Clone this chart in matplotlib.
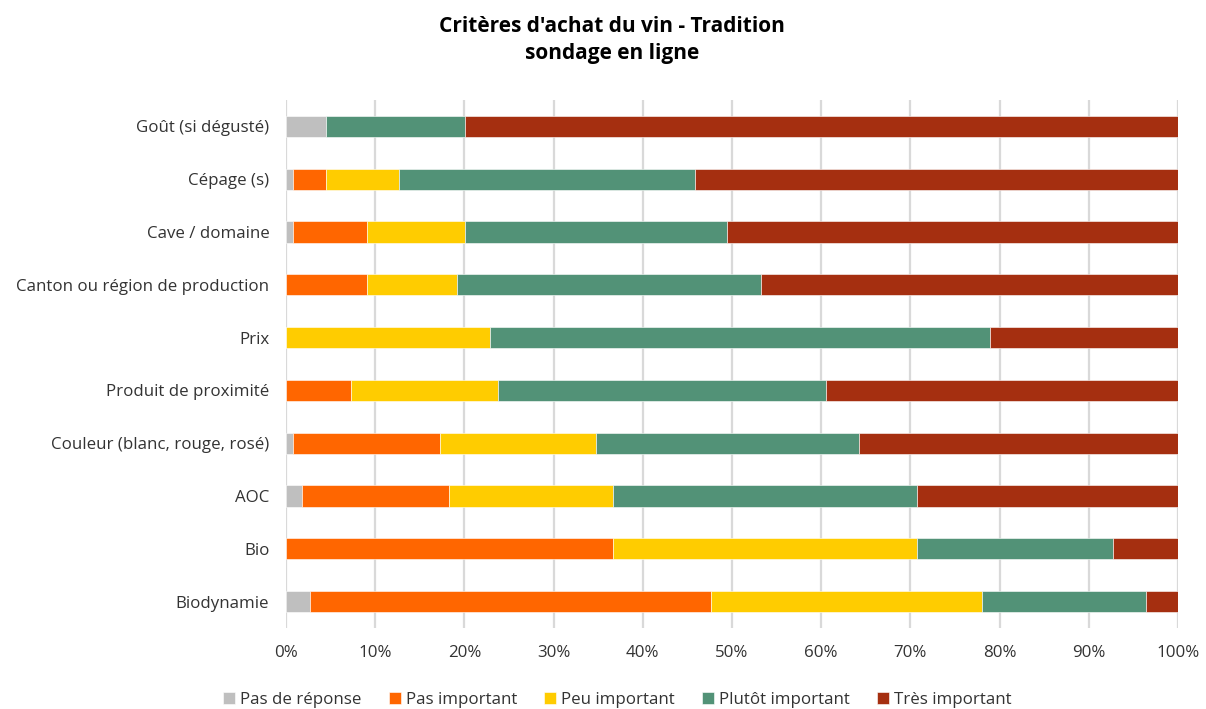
import numpy as np
import matplotlib
matplotlib.use("Agg")
import matplotlib.pyplot as plt
from matplotlib.ticker import PercentFormatter

plt.rcParams['font.family'] = ['Open Sans', 'DejaVu Sans']

criteres = ["Goût (si dégusté)", "Cépage (s)", "Cave / domaine",
            "Canton ou région de production", "Prix", "Produit de proximité",
            "Couleur (blanc, rouge, rosé)", "AOC", "Bio", "Biodynamie"]

categories = ["Pas de réponse", "Pas important", "Peu important",
              "Plutôt important", "Très important"]

# parts en % par critère
pas_de_reponse = [4.5, 0.8, 0.8, 0.0, 0.0, 0.0, 0.8, 1.8, 0.0, 2.7]
pas_important = [0.0, 3.7, 8.3, 9.1, 0.0, 7.3, 16.5, 16.5, 36.7, 45.0]
peu_important = [0.0, 8.2, 11.0, 10.1, 22.9, 16.5, 17.5, 18.4, 34.0, 30.3]
plutot_important = [15.6, 33.2, 29.3, 34.0, 56.0, 36.7, 29.4, 34.0, 22.0, 18.4]
tres_important = [79.9, 54.1, 50.6, 46.8, 21.1, 39.5, 35.8, 29.3, 7.3, 3.6]

couleurs = ["#BFBFBF", "#FF6600", "#FFCC00", "#529277", "#A52F10"]

series = [pas_de_reponse, pas_important, peu_important, plutot_important, tres_important]

fig = plt.figure(figsize=(12.06, 7.09), dpi=100)
ax = fig.add_axes([0.2371, 0.1142, 0.7397, 0.7448])

y = np.arange(len(criteres))
gauche = np.zeros(len(criteres))
for nom, vals, c in zip(categories, series, couleurs):
    vals = np.array(vals)
    ax.barh(y, vals, left=gauche, height=0.4, color=c, label=nom,
            edgecolor="white", linewidth=0.4, zorder=3)
    gauche += vals

ax.set_xlim(0, 100)
ax.set_ylim(len(criteres) - 0.5, -0.5)
ax.set_xticks(np.arange(0, 101, 10))
ax.xaxis.set_major_formatter(PercentFormatter(decimals=0))
ax.set_yticks(y)
ax.set_yticklabels(criteres)
ax.grid(axis="x", color="#D9D9D9", linewidth=1.6, zorder=0)
for s in ax.spines.values():
    s.set_visible(False)
ax.tick_params(axis="both", length=0, labelsize=12.2, colors="#333333")
ax.tick_params(axis="x", pad=12)
ax.tick_params(axis="y", pad=12)

fig.text(0.5075, 0.978, "Critères d'achat du vin - Tradition\nsondage en ligne",
         ha="center", va="top", fontsize=15, fontweight="bold",
         linespacing=1.4, color="black")

fig.legend(loc="lower center", bbox_to_anchor=(0.512, -0.02), ncol=5,
           frameon=False, fontsize=12.2, handlelength=0.7, handleheight=0.7,
           handletextpad=0.3, columnspacing=1.6, labelcolor="#333333")

fig.savefig("out.png", dpi=100)
